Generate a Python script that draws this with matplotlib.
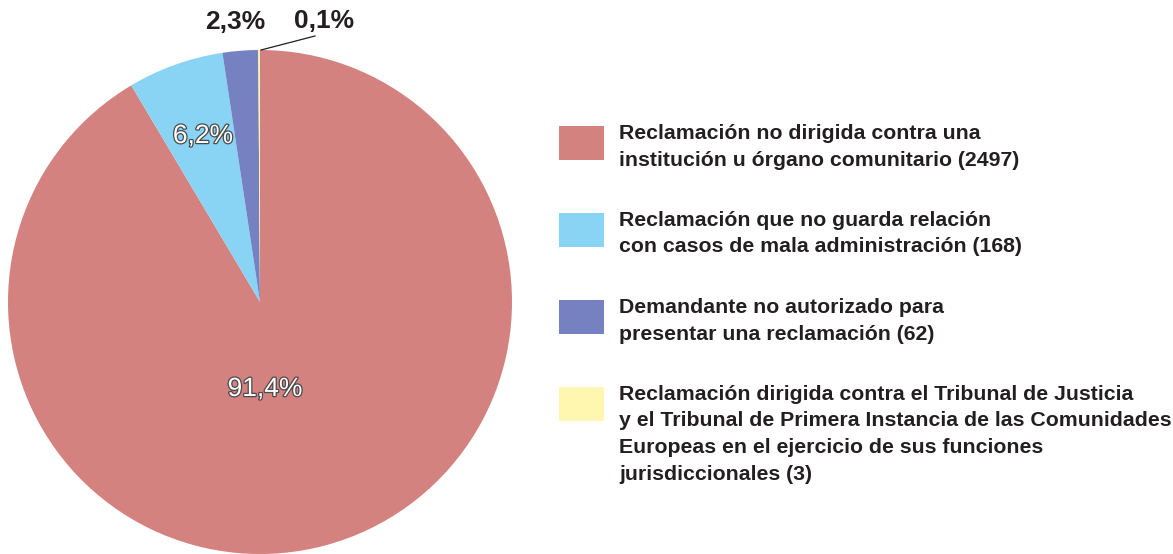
import matplotlib.pyplot as plt
import matplotlib.patheffects as pe
from matplotlib.patches import Rectangle

plt.rcParams['font.family'] = ['Liberation Sans', 'DejaVu Sans']

categories = [
    'Reclamación no dirigida contra una\ninstitución u órgano comunitario (2497)',
    'Reclamación que no guarda relación\ncon casos de mala administración (168)',
    'Demandante no autorizado para\npresentar una reclamación (62)',
    'Reclamación dirigida contra el Tribunal de Justicia\ny el Tribunal de Primera Instancia de las Comunidades\nEuropeas en el ejercicio de sus funciones\njurisdiccionales (3)',
]
counts = [2497, 168, 62, 3]
pct_labels = ['91,4%', '6,2%', '2,3%', '0,1%']
colors = ['#D4827F', '#89D3F4', '#7681C1', '#FFF7B0']

W, H = 1173, 554
fig = plt.figure(figsize=(W / 100, H / 100), dpi=100)
ax = fig.add_axes([0, 0, 1, 1])

cx, cy, r = 260, H - 302, 252
ax.pie(counts, colors=colors, startangle=90, counterclock=False,
       center=(cx, cy), radius=r, frame=True,
       wedgeprops=dict(linewidth=0))
ax.set_xlim(0, W)
ax.set_ylim(0, H)
ax.set_aspect('equal')
ax.axis('off')

outline = [pe.Stroke(linewidth=1.8, foreground='#4a4a4a'), pe.Normal()]
ax.text(265, H - 389, pct_labels[0], fontsize=19, color='white',
        ha='center', va='center', path_effects=outline)
ax.text(203, H - 136, pct_labels[1], fontsize=19, color='white',
        ha='center', va='center', path_effects=outline)
ax.text(235, H - 22, pct_labels[2], fontsize=19, fontweight='bold',
        color='#231f20', ha='center', va='center')
ax.text(324, H - 21, pct_labels[3], fontsize=19, fontweight='bold',
        color='#231f20', ha='center', va='center')
ax.plot([261, 315], [H - 50, H - 36], color='#231f20', lw=0.9)

sw_tops = [126, 213, 300, 387]
for lab, col, top in zip(categories, colors, sw_tops):
    ax.add_patch(Rectangle((559, H - top - 34), 45, 34, facecolor=col,
                           edgecolor='none'))
    ax.text(619, H - top + 2, lab, fontsize=15.3, fontweight='bold',
            color='#231f20', ha='left', va='top', linespacing=1.5)

fig.savefig('out.png', dpi=100)
